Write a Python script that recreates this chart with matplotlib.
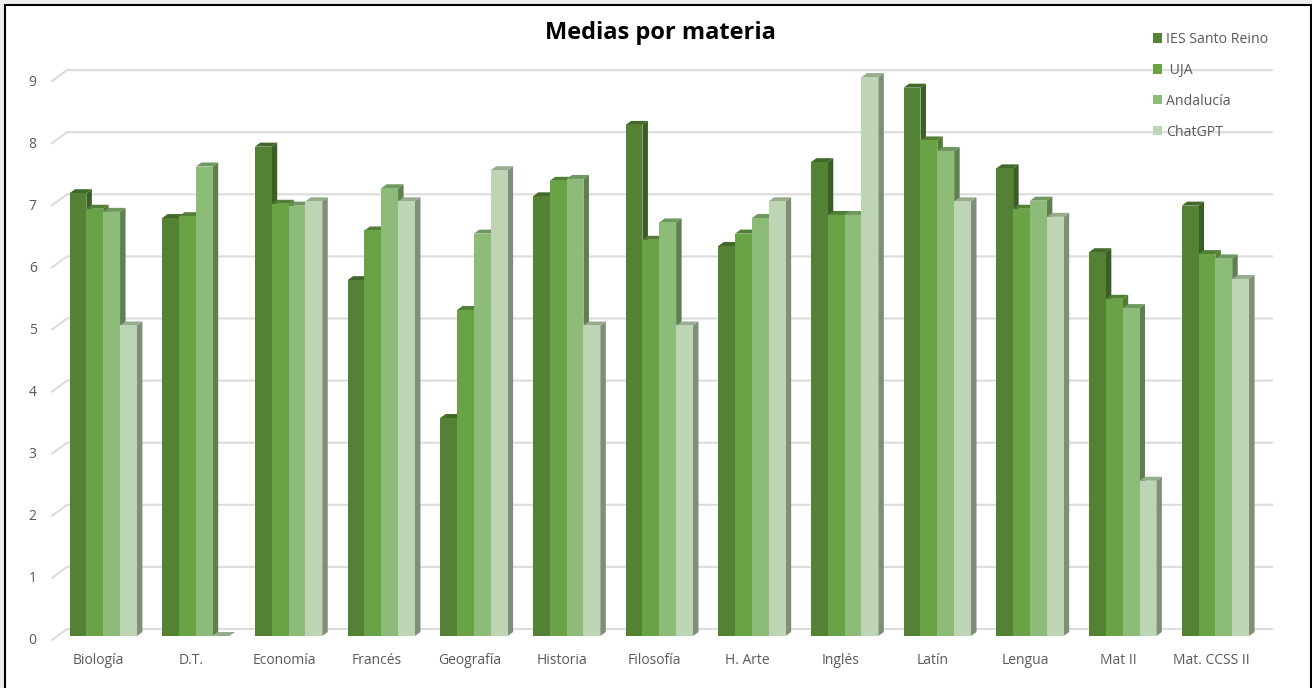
import numpy as np
import matplotlib
matplotlib.use('Agg')
import matplotlib.pyplot as plt
from matplotlib.patches import Rectangle
from matplotlib.transforms import ScaledTranslation

plt.rcParams['font.family'] = ['Open Sans', 'DejaVu Sans']

materias = ['Biología', 'D.T.', 'Economía', 'Francés', 'Geografía', 'Historia', 'Filosofía',
            'H. Arte', 'Inglés', 'Latín', 'Lengua', 'Mat II', 'Mat. CCSS II']
ies = [7.13, 6.73, 7.88, 5.73, 3.51, 7.08, 8.23, 6.28, 7.63, 8.83, 7.53, 6.18, 6.93]
uja = [6.88, 6.76, 6.96, 6.53, 5.25, 7.33, 6.38, 6.48, 6.78, 7.98, 6.88, 5.43, 6.15]
andalucia = [6.83, 7.56, 6.93, 7.21, 6.48, 7.36, 6.66, 6.73, 6.78, 7.81, 7.01, 5.28, 6.08]
chatgpt = [5, 0, 7, 7, 7.5, 5, 5, 7, 9, 7, 6.75, 2.5, 5.75]
ticks_y = [0, 1, 2, 3, 4, 5, 6, 7, 8, 9]

series = [('IES Santo Reino', ies), (' UJA', uja), ('Andalucía', andalucia), ('ChatGPT', chatgpt)]
front = ['#548235', '#69A346', '#8DBB78', '#BDD5B5']
side = ['#3B5E26', '#4F7B33', '#5F7F50', '#7E8E78']
top = ['#43692A', '#527F35', '#6F9860', '#97AB8F']

W, H = 1312, 688
PX = 1 / 92.68  # one pixel in x data units
PY = 1 / 62.1   # one pixel in y data units

fig = plt.figure(figsize=(W / 100, H / 100), dpi=100, facecolor='#EDEDED')
# frame runs off the bottom of the picture
fig.patches.append(Rectangle((5 / W, -10 / H), 1306 / W, (H + 5) / H, transform=fig.transFigure,
                             facecolor='white', edgecolor='black', lw=1.5, zorder=-1))

ax = fig.add_axes([52 / W, (H - 636) / H, 1220 / W, 576 / H])
ax.patch.set_alpha(0)
ax.set_xlim((52 - 103.2) * PX, (1272 - 103.2) * PX)
ax.set_ylim(0, 576 * PY)
for s in ax.spines.values():
    s.set_visible(False)

# back wall grid with the small slanted floor part
for v in ticks_y:
    y_back = v + 7 * PY
    ax.plot([(52 - 103.2) * PX, (67 - 103.2) * PX, (1272 - 103.2) * PX],
            [v - 4 * PY, y_back, y_back], color='#DCDCDC', lw=1.5, zorder=1, clip_on=False)

x = np.arange(len(materias))
ancho = 16.85 * PX
dx = 5.5 * PX
dy = 4 * PY

z = 2
for i in x:
    for j, (nombre, vals) in enumerate(series):
        left = i - 2 * ancho + j * ancho
        h = vals[i]
        r = left + ancho
        ax.fill([r, r + dx, r + dx, r], [0, dy, h + dy, h], color=side[j], lw=0, zorder=z, clip_on=False)
        ax.fill([left, left + dx, r + dx, r], [h, h + dy, h + dy, h], color=top[j], lw=0, zorder=z, clip_on=False)
        ax.bar(left + ancho / 2, h, ancho, color=front[j], lw=0, zorder=z + 0.5, clip_on=False,
               label=nombre if i == 0 else None)
        z += 1

ax.set_xticks(x - 4.5 * PX)
ax.set_xticklabels(materias)
ax.set_yticks(ticks_y)
ax.tick_params(length=0, colors='#595959', labelsize=10)
ax.tick_params(axis='x', pad=12.5)
ax.tick_params(axis='y', pad=11)
shift = ScaledTranslation(0, -3 / 100, fig.dpi_scale_trans)
for t in ax.get_yticklabels():
    t.set_transform(t.get_transform() + shift)

fig.text(660 / W, (H - 33) / H, 'Medias por materia', ha='center', va='center',
         fontsize=17, fontweight='bold', color='black')

leg = ax.legend(loc='upper left', bbox_to_anchor=(1153 / W, (H - 32) / H),
                bbox_transform=fig.transFigure, frameon=False, fontsize=10.2,
                labelspacing=1.12, handlelength=0.65, handleheight=0.65, handletextpad=0.28,
                borderpad=0, borderaxespad=0, labelcolor='#595959')
leg.set_zorder(200)

plt.savefig('out.png', dpi=100, facecolor=fig.get_facecolor())
